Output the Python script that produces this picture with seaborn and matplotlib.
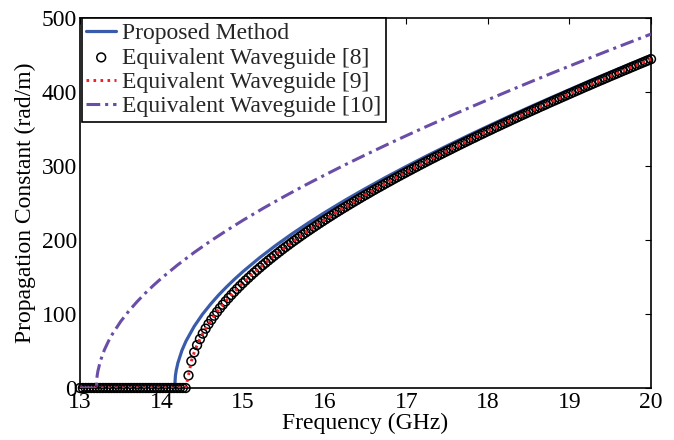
import numpy as np
import pandas as pd
import matplotlib
matplotlib.use("Agg")
import matplotlib.pyplot as plt
import seaborn as sns

# ---------------- data ----------------
# Proposed Method (blue solid)
f_prop = [13.0, 14.16, 14.17, 14.18, 14.20, 14.25, 14.30, 14.40, 14.50, 14.60,
          14.70, 14.80, 14.90, 15.00, 15.20, 15.40, 15.60, 15.80, 16.00, 16.25,
          16.50, 16.75, 17.00, 17.25, 17.50, 17.75, 18.00, 18.25, 18.50, 18.75,
          19.00, 19.25, 19.50, 19.75, 20.00]
beta_prop = [0.0, 0.0, 16.9, 24.0, 33.9, 50.9, 63.5, 83.3, 99.4, 113.2,
             125.7, 137.0, 147.6, 157.5, 175.9, 192.7, 208.4, 223.1, 237.1, 253.8,
             269.6, 284.8, 299.4, 313.6, 327.3, 340.7, 353.7, 366.5, 379.0, 391.2,
             403.2, 415.1, 426.7, 438.2, 449.6]

# Equivalent Waveguide [8] (circles) and [9] (red dotted) -- 201 samples 13..20 GHz
f_eq = np.linspace(13.0, 20.0, 201)
beta_eq8 = [0.0] * 38 + [
    17.0, 36.2, 48.2, 57.9, 66.1, 73.5, 80.2, 86.4, 92.2, 97.7,
    102.8, 107.8, 112.5, 117.1, 121.5, 125.8, 129.9, 133.9, 137.8, 141.6,
    145.3, 148.9, 152.5, 156.0, 159.4, 162.7, 166.0, 169.2, 172.4, 175.5,
    178.6, 181.6, 184.6, 187.6, 190.5, 193.3, 196.2, 199.0, 201.7, 204.5,
    207.2, 209.9, 212.5, 215.1, 217.7, 220.3, 222.9, 225.4, 227.9, 230.4,
    232.8, 235.3, 237.7, 240.1, 242.5, 244.8, 247.2, 249.5, 251.8, 254.1,
    256.4, 258.7, 260.9, 263.1, 265.4, 267.6, 269.8, 271.9, 274.1, 276.3,
    278.4, 280.5, 282.7, 284.8, 286.9, 289.0, 291.0, 293.1, 295.1, 297.2,
    299.2, 301.3, 303.3, 305.3, 307.3, 309.3, 311.2, 313.2, 315.2, 317.1,
    319.1, 321.0, 322.9, 324.9, 326.8, 328.7, 330.6, 332.5, 334.4, 336.3,
    338.1, 340.0, 341.9, 343.7, 345.6, 347.4, 349.2, 351.1, 352.9, 354.7,
    356.5, 358.3, 360.1, 361.9, 363.7, 365.5, 367.3, 369.0, 370.8, 372.6,
    374.3, 376.1, 377.8, 379.6, 381.3, 383.0, 384.8, 386.5, 388.2, 389.9,
    391.6, 393.3, 395.0, 396.8, 398.4, 400.1, 401.8, 403.5, 405.2, 406.9,
    408.5, 410.2, 411.9, 413.5, 415.2, 416.8, 418.5, 420.1, 421.8, 423.4,
    425.0, 426.7, 428.3, 429.9, 431.5, 433.2, 434.8, 436.4, 438.0, 439.6,
    441.2, 442.8, 444.4]
beta_eq9 = list(beta_eq8)

# Equivalent Waveguide [10] (purple dash-dot)
f_eq10 = [13.0, 13.20, 13.21, 13.22, 13.25, 13.30, 13.35, 13.40, 13.50, 13.60,
          13.70, 13.80, 13.90, 14.00, 14.20, 14.40, 14.60, 14.80, 15.00, 15.25,
          15.50, 15.75, 16.00, 16.25, 16.50, 16.75, 17.00, 17.25, 17.50, 17.75,
          18.00, 18.25, 18.50, 18.75, 19.00, 19.25, 19.50, 19.75, 20.00]
beta_eq10 = [0.0, 0.0, 16.4, 23.1, 36.6, 51.8, 63.5, 73.4, 90.1, 104.2,
             116.7, 128.1, 138.6, 148.5, 166.6, 183.2, 198.6, 213.0, 226.8, 243.1,
             258.6, 273.5, 287.8, 301.7, 315.1, 328.2, 341.0, 353.5, 365.7, 377.7,
             389.5, 401.1, 412.6, 423.9, 435.0, 446.0, 456.9, 467.6, 478.3]

labels = ["Proposed Method", "Equivalent Waveguide [8]",
          "Equivalent Waveguide [9]", "Equivalent Waveguide [10]"]
x_ticks = [13, 14, 15, 16, 17, 18, 19, 20]
y_ticks = [0, 100, 200, 300, 400, 500]

# ---------------- style ----------------
sns.set_theme(style="white")
plt.rcParams["font.family"] = ["Liberation Serif", "DejaVu Serif"]

FS = 17
fig = plt.figure(figsize=(6.74, 4.40), dpi=100)
ax = fig.add_axes([80 / 674, 1 - 388 / 440, (651 - 80) / 674, (388 - 18) / 440])

df_prop = pd.DataFrame({"f": f_prop, "b": beta_prop})
df_eq8 = pd.DataFrame({"f": f_eq, "b": beta_eq8})
df_eq9 = pd.DataFrame({"f": f_eq, "b": beta_eq9})
df_eq10 = pd.DataFrame({"f": f_eq10, "b": beta_eq10})

blue = "#3A5BAA"
red = "#F01E28"
purple = "#6A4DA6"

sns.lineplot(data=df_prop, x="f", y="b", ax=ax, color=blue, lw=2.3,
             sort=False, estimator=None, label=labels[0], zorder=2)
sns.scatterplot(data=df_eq8, x="f", y="b", ax=ax, marker="o", s=40,
                facecolor="none", edgecolor="black", linewidth=1.1,
                label=labels[1], zorder=3, clip_on=False)
sns.lineplot(data=df_eq9, x="f", y="b", ax=ax, color=red, lw=2.1,
             linestyle=(0, (0.9, 1.5)), sort=False, estimator=None,
             label=labels[2], zorder=4)
sns.lineplot(data=df_eq10, x="f", y="b", ax=ax, color=purple, lw=2.2,
             linestyle=(0, (4.5, 1.6, 1.0, 1.6)), sort=False, estimator=None,
             label=labels[3], zorder=5)

ax.set_xlim(13, 20)
ax.set_ylim(0, 500)
ax.set_xticks(x_ticks)
ax.set_yticks(y_ticks)
ax.set_xticklabels([str(t) for t in x_ticks])
ax.set_yticklabels([str(t) for t in y_ticks])
ax.tick_params(axis="both", direction="in", length=4.5, width=0.8,
               labelsize=FS, top=True, right=True, colors="black",
               labelcolor="black")
ax.tick_params(axis="x", pad=3)
ax.tick_params(axis="y", pad=2)
for sp in ax.spines.values():
    sp.set_visible(True)
    sp.set_color("black")
    sp.set_linewidth(1.2)
ax.grid(False)
ax.set_facecolor("white")

ax.set_xlabel("Frequency (GHz)", fontsize=FS, labelpad=0, color="black")
ax.set_ylabel("Propagation Constant (rad/m)", fontsize=FS, labelpad=4,
              color="black")

handles, labs = ax.get_legend_handles_labels()
leg = ax.legend(handles, labs, loc="upper left", bbox_to_anchor=(0.003, 1.0),
                borderaxespad=0, fontsize=FS, frameon=True, fancybox=False,
                handlelength=1.25, handletextpad=0.25, labelspacing=0.12,
                borderpad=0.2)
leg.get_frame().set_edgecolor("black")
leg.get_frame().set_linewidth(1.2)
leg.get_frame().set_alpha(1.0)

fig.savefig("out.png", dpi=100, facecolor="white")
